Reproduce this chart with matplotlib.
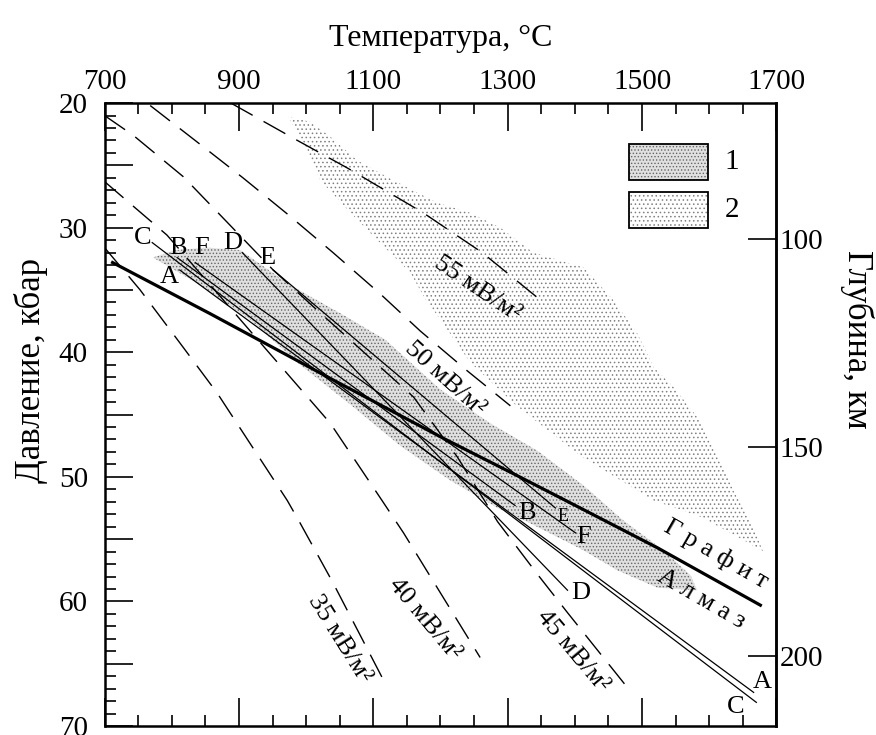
import matplotlib
matplotlib.use("Agg")
import matplotlib.pyplot as plt
from matplotlib.ticker import MultipleLocator, FixedLocator, FuncFormatter
from matplotlib.patches import Rectangle

plt.rcParams['font.family'] = ['Liberation Serif', 'DejaVu Serif']
plt.rcParams['hatch.linewidth'] = 0.6

# Геотермы: температура (°C) и давление (кбар)
geo35_t = [700, 753, 817, 868, 972, 991, 1040, 1115]
geo35_p = [31.6, 35.0, 39.6, 43.3, 51.9, 53.7, 58.5, 66.3]
geo40_t = [700, 793, 1036, 1113, 1145, 1259]
geo40_p = [26.3, 30.6, 45.7, 51.9, 54.5, 64.5]
geo45_t = [700, 743, 817, 876, 951, 1016, 1160, 1225, 1285, 1344, 1389, 1478]
geo45_p = [21.0, 22.6, 25.9, 29.2, 33.4, 36.6, 43.6, 48.4, 53.6, 57.8, 60.9, 66.9]
geo50_t = [768, 842, 906, 972, 1040, 1110, 1170, 1240, 1304]
geo50_p = [20.2, 23.3, 26.0, 28.9, 32.0, 35.3, 38.3, 41.5, 44.3]
geo55_t = [888, 987, 1061, 1174, 1262, 1353]
geo55_p = [20.0, 23.0, 25.2, 28.8, 32.0, 36.0]
geo_names = ['35', '40', '45', '50', '55']

# Положение подписей геотерм (T, P, угол)
geo_lbl_t = [1050, 1176, 1396, 1207, 1255]
geo_lbl_p = [63.0, 61.4, 64.0, 42.1, 34.9]
geo_lbl_rot = [-58, -50, -50, -42, -34]

# Равновесие графит-алмаз
gd_t = [712, 857, 1036, 1204, 1314, 1408, 1523, 1676]
gd_p = [32.8, 36.9, 42.1, 46.9, 49.9, 52.5, 55.7, 60.3]

# Линии A-F: начало и конец
lines_names = ['A', 'B', 'C', 'D', 'E', 'F']
lines_t = [(812, 1666), (808, 1311), (771, 1670), (905, 1389), (951, 1371), (835, 1401)]
lines_p = [(33.4, 67.3), (32.4, 52.3), (31.2, 68.1), (32.0, 59.1), (33.4, 52.5), (32.8, 54.5)]
# подписи у начала и у конца линий
lbl_start_t = [797, 809, 757, 891, 942, 845]
lbl_start_p = [34.0, 31.6, 30.8, 31.2, 32.4, 31.6]
lbl_end_t = [1679, 1329, 1639, 1408, 1383, 1413]
lbl_end_p = [66.5, 52.9, 68.5, 59.3, 53.2, 54.8]

# Поле 1 (густой крап)
reg1_t = [772, 805, 853, 902, 976, 1055, 1118, 1200, 1274, 1344, 1413, 1472, 1532, 1572, 1582,
          1523, 1463, 1413, 1329, 1285, 1215, 1140, 1066, 991, 917, 842, 798]
reg1_p = [32.4, 31.8, 31.6, 31.8, 34.6, 37.0, 39.0, 43.0, 45.7, 47.9, 50.7, 53.5, 55.9, 57.9, 59.1,
          58.9, 57.5, 55.9, 53.6, 52.5, 50.3, 47.5, 44.2, 41.0, 37.4, 34.6, 33.2]

# Поле 2 (редкий крап)
reg2_t = [973, 1006, 1036, 1076, 1130, 1195, 1244, 1289, 1338, 1413, 1457, 1493, 1517, 1547, 1582,
          1606, 1636, 1662, 1680, 1655, 1587, 1517, 1408, 1311, 1244, 1200, 1177, 1155, 1106, 1066,
          1021, 1002]
reg2_p = [21.1, 21.5, 22.7, 24.6, 26.2, 28.0, 28.8, 30.0, 32.0, 33.2, 35.8, 38.5, 41.2, 42.8, 45.2,
          47.6, 51.1, 53.6, 56.0, 55.2, 53.2, 51.9, 48.3, 44.2, 40.8, 37.4, 35.7, 33.6, 31.0, 28.8,
          26.2, 23.8]

fig = plt.figure(figsize=(8.76, 7.35), dpi=100)
ax = fig.add_axes([0.1193, 0.0122, 0.7671, 0.8476])

ax.fill(reg2_t, reg2_p, facecolor='white', edgecolor='#808080', hatch='....', lw=0, zorder=1)
ax.fill(reg1_t, reg1_p, facecolor='#e0e0e0', edgecolor='#666666', hatch='.....', lw=0, zorder=1)

geos = [(geo35_t, geo35_p), (geo40_t, geo40_p), (geo45_t, geo45_p),
        (geo50_t, geo50_p), (geo55_t, geo55_p)]
for (t, p), name, lt, lp, rot in zip(geos, geo_names, geo_lbl_t, geo_lbl_p, geo_lbl_rot):
    ax.plot(t, p, color='black', lw=1.0, dashes=(18, 9), zorder=2)
    ax.text(lt, lp, name + ' мВ/м²', rotation=rot, rotation_mode='anchor',
            ha='center', va='center', fontsize=19, zorder=4)

for t, p in zip(lines_t, lines_p):
    ax.plot(t, p, color='black', lw=0.9, zorder=3)

ax.plot(gd_t, gd_p, color='black', lw=2.3, zorder=3)

for name, t, p in zip(lines_names, lbl_start_t, lbl_start_p):
    ax.text(t, p, name, ha='center', va='center', fontsize=19, zorder=4)
for name, t, p in zip(lines_names, lbl_end_t, lbl_end_p):
    ax.text(t, p, name, ha='center', va='center', fontsize=13 if name == 'E' else 19, zorder=4)

ax.text(1610, 56.2, 'Г р а ф и т', rotation=-30, rotation_mode='anchor',
        ha='center', va='center', fontsize=19, zorder=4)
ax.text(1588, 59.8, 'А л м а з', rotation=-30, rotation_mode='anchor',
        ha='center', va='center', fontsize=19, zorder=4)

# условные обозначения
for y0, fc, ec, h, lab in [(0.876, '#e0e0e0', '#666666', '.....', '1'),
                           (0.799, 'white', '#808080', '....', '2')]:
    ax.add_patch(Rectangle((0.7805, y0), 0.1175, 0.058, transform=ax.transAxes,
                           facecolor=fc, edgecolor=ec, hatch=h, lw=0, zorder=5))
    ax.add_patch(Rectangle((0.7805, y0), 0.1175, 0.058, transform=ax.transAxes,
                           fill=False, edgecolor='black', lw=1.3, zorder=6))
    ax.text(0.934, y0 + 0.029, lab, transform=ax.transAxes, ha='center', va='center',
            fontsize=21, zorder=6)

ax.set_xlim(700, 1700)
ax.set_ylim(70, 20)

ax.xaxis.tick_top()
ax.xaxis.set_label_position('top')
ax.xaxis.set_major_locator(FixedLocator(range(700, 1701, 200)))
ax.xaxis.set_minor_locator(MultipleLocator(50))
ax.yaxis.set_major_locator(MultipleLocator(5))
ax.yaxis.set_minor_locator(MultipleLocator(1))
ax.yaxis.set_major_formatter(FuncFormatter(lambda v, pos: f'{v:.0f}' if v % 10 == 0 else ''))

ax.tick_params(which='both', direction='in', top=True, bottom=True, left=True, right=False,
               labeltop=True, labelbottom=False, width=1.2)
ax.tick_params(which='major', length=20, labelsize=21)
ax.tick_params(which='minor', length=8)
ax.tick_params(axis='x', pad=6)
ax.tick_params(axis='y', pad=12)

for s in ax.spines.values():
    s.set_linewidth(1.8)

ax.set_xlabel('Температура, °C', fontsize=23, labelpad=16)
ax.set_ylabel('Давление, кбар', fontsize=25)
ax.yaxis.set_label_coords(-0.084, 0.57)

# глубина, км
depth = ax.secondary_yaxis('right', functions=(lambda p: 2.99 * p + 7.6,
                                               lambda d: (d - 7.6) / 2.99))
depth.set_yticks([100, 150, 200])
depth.tick_params(direction='in', length=20, width=1.2, labelsize=21, pad=2)
depth.spines['right'].set_linewidth(1.8)
ax.text(1.12, 0.62, 'Глубина, км', transform=ax.transAxes, rotation=-90,
        ha='center', va='center', fontsize=25)

fig.savefig('out.png', dpi=100)
